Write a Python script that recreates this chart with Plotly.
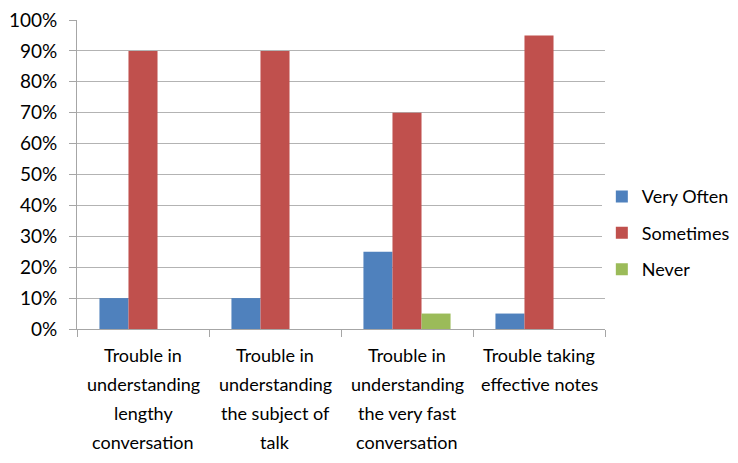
import plotly.graph_objects as go

categories = [
    "Trouble in<br>understanding<br>lengthy<br>conversation",
    "Trouble in<br>understanding<br>the subject of<br>talk",
    "Trouble in<br>understanding<br>the very fast<br>conversation",
    "Trouble taking<br>effective notes",
]
very_often = [10, 10, 25, 5]
sometimes = [90, 90, 70, 95]
never = [0, 0, 5, 0]
y_ticks = list(range(0, 101, 10))
y_labels = [f"{v}%" for v in y_ticks]

FONT = "Lato"
fig = go.Figure()
for name, vals, col in [("Very Often", very_often, "#4F81BD"),
                        ("Sometimes", sometimes, "#C0504D"),
                        ("Never", never, "#9BBB59")]:
    fig.add_trace(go.Bar(x=categories, y=vals, name=name, legendgroup=name,
                         marker=dict(color=col, line=dict(width=0))))

# category labels with wider line spacing
for cat in categories:
    for i, line in enumerate(cat.split("<br>")):
        fig.add_annotation(x=cat, xref="x", y=0, yref="paper",
                           text=line, showarrow=False, yanchor="middle",
                           yshift=-(26 + i * 29),
                           font=dict(family=FONT, size=18, color="#000000"))

fig.update_layout(
    width=730, height=455,
    margin=dict(l=69, r=133, t=12, b=134, autoexpand=False),
    paper_bgcolor="white", plot_bgcolor="white",
    barmode="group", bargap=0.34, bargroupgap=0,
    font=dict(family=FONT, size=18, color="#000000"),
    legend=dict(x=0.994, y=0.31, xanchor="left", yanchor="middle",
                font=dict(size=18), tracegroupgap=10, itemwidth=30),
    showlegend=True,
)
fig.update_yaxes(range=[0, 100], tickvals=y_ticks, ticktext=y_labels,
                 showgrid=True, gridcolor="#B3B3B3", gridwidth=1,
                 showline=True, linecolor="#A6A6A6", linewidth=1,
                 ticks="outside", ticklen=7, tickcolor="#A6A6A6",
                 ticklabelstandoff=8, ticklabeloverflow="allow",
                 zeroline=False, tickfont=dict(size=19), automargin=False)
fig.update_xaxes(showline=True, linecolor="#A6A6A6", linewidth=1,
                 ticks="outside", ticklen=7, tickcolor="#A6A6A6",
                 tickson="boundaries", showgrid=False,
                 showticklabels=False, automargin=False)
fig.write_html("out.html")
